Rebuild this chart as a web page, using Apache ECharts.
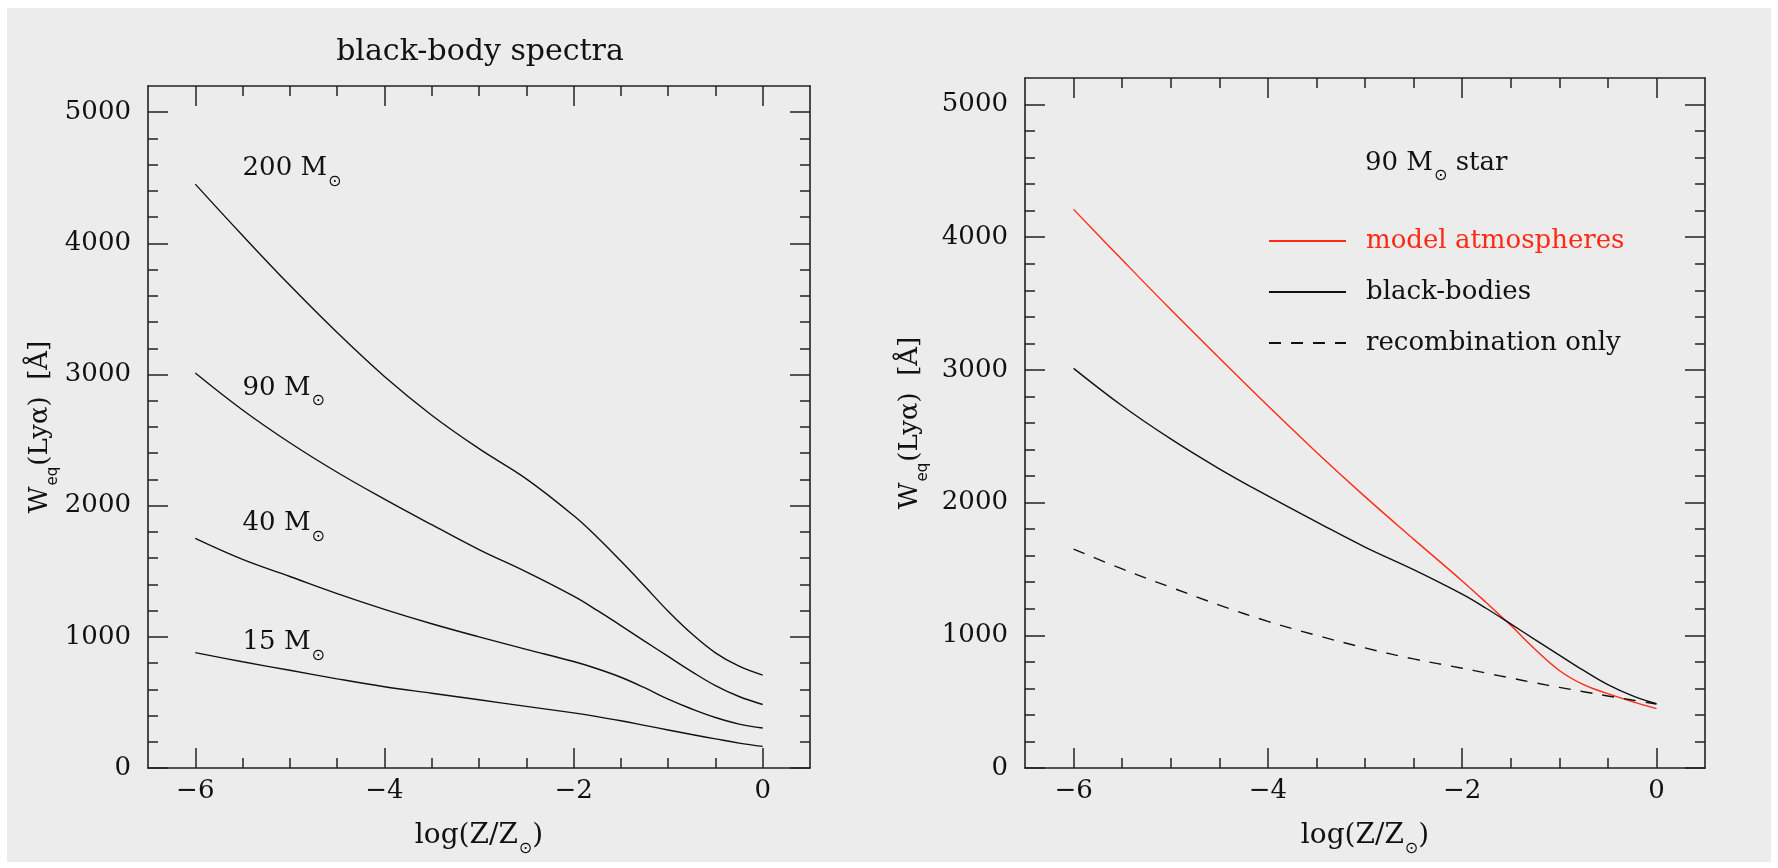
<!DOCTYPE html>
<html>
<head>
<meta charset="utf-8">
<script src="https://cdn.jsdelivr.net/npm/echarts@6/dist/echarts.min.js"></script>
<style>
  html, body { margin: 0; padding: 0; background: #ffffff; }
  #chart { position: absolute; left: 7px; top: 8px; width: 1764px; height: 854px; background: #ececec; }
</style>
</head>
<body>
<div id="chart"></div>
<script>
// log(Z/Zsun) sample points shared by every curve (finer near solar metallicity)
const logZ = [-6, -5.5, -5, -4.5, -4, -3.5, -3, -2.5, -2, -1.75, -1.5, -1.25, -1, -0.75, -0.5, -0.25, 0];

// Left panel: W_eq(Lyα) in Å for black-body spectra
const bb200 = [4452, 4060, 3680, 3320, 2985, 2690, 2435, 2205, 1925, 1760, 1578, 1388, 1195, 1023, 878, 776, 708];
const bb90  = [3012, 2730, 2480, 2255, 2050, 1855, 1665, 1495, 1310, 1202, 1086, 968, 851, 735, 628, 545, 484];
const bb40  = [1750, 1590, 1460, 1330, 1210, 1100, 1000, 905, 812, 757, 692, 612, 525, 450, 385, 335, 305];
const bb15  = [880, 810, 745, 680, 620, 570, 520, 470, 420, 392, 360, 325, 290, 255, 222, 190, 165];

// Right panel: 90 Msun star
const modelAtm = [4210, 3830, 3455, 3090, 2730, 2380, 2045, 1725, 1410, 1245, 1075, 895, 735, 628, 560, 500, 447];
const blackBodies = bb90;
const recombOnly = [1650, 1500, 1362, 1228, 1105, 1000, 905, 822, 752, 715, 678, 642, 608, 575, 543, 512, 482];

// Mass labels on the left panel
const massNames = ['200', '90', '40', '15'];
const massLabelY = [4570, 2895, 1865, 955];
const massLabelX = -5.5;

// Tick values
const xMajor = [-6, -4, -2, 0];
const xMinor = [-5.5, -5, -4.5, -3.5, -3, -2.5, -1.5, -1, -0.5];
const yMajor = [0, 1000, 2000, 3000, 4000, 5000];
const yMinor = [200, 400, 600, 800, 1200, 1400, 1600, 1800, 2200, 2400, 2600, 2800,
                3200, 3400, 3600, 3800, 4200, 4400, 4600, 4800];

const RED = '#ff2a14';
const INK = '#111111';
const FONT = 'DejaVu Serif';

const pts = vals => logZ.map((x, i) => [x, vals[i]]);
const minus = v => String(v).replace('-', '\u2212');

// n: normal text, o: solar symbol subscript, s: letter subscript
function richSet(size) {
  return {
    n: { fontFamily: FONT, fontSize: size, color: INK, lineHeight: 42 },
    o: { fontFamily: 'DejaVu Sans', fontSize: 16, color: INK, verticalAlign: 'bottom', lineHeight: 18, padding: [0, 0, 0, 1] },
    s: { fontFamily: 'DejaVu Sans', fontSize: 15, color: INK, verticalAlign: 'bottom', lineHeight: 20, padding: [0, 1, 0, 1] }
  };
}
const richBase = richSet(26);
const richName = richSet(28);

function frameAxes(kind, gridIndex, name, nameGap, rich) {
  const isX = kind === 'x';
  const lo = isX ? -6.5 : 0, hi = isX ? 0.5 : 5200;
  const major = isX ? xMajor : yMajor, minor = isX ? xMinor : yMinor;
  const positions = isX ? ['bottom', 'top'] : ['left', 'right'];
  const out = [];
  positions.forEach((pos, p) => {
    const main = p === 0;
    out.push({
      type: 'value', gridIndex, position: pos, min: lo, max: hi,
      axisLine: { show: true, onZero: false, lineStyle: { color: '#222', width: 1.6 } },
      axisTick: { show: true, inside: true, customValues: major, length: 20, lineStyle: { color: '#222', width: 1.5 } },
      axisLabel: main ? {
        show: true, customValues: major, formatter: minus, margin: isX ? 10 : 17,
        fontFamily: FONT, fontSize: 26, color: INK
      } : { show: false },
      splitLine: { show: false },
      name: main ? name : '',
      nameLocation: 'middle', nameGap: nameGap, nameRotate: isX ? 0 : 90,
      nameTextStyle: { rich }
    });
    out.push({
      type: 'value', gridIndex, position: pos, min: lo, max: hi,
      axisLine: { show: false, onZero: false },
      axisTick: { show: true, inside: true, customValues: minor, length: 10, lineStyle: { color: '#222', width: 1.5 } },
      axisLabel: { show: false },
      splitLine: { show: false }
    });
  });
  return out;
}

const xName = '{n|log(Z/Z}{o|\u2299}{n|)}';
const yName = '{n|W}{s|eq}{n|(Ly\u03b1)  [\u00c5]}';

const xAxes = frameAxes('x', 0, xName, 47, richName).concat(frameAxes('x', 1, xName, 47, richName));
const yAxes = frameAxes('y', 0, yName, 86, richBase).concat(frameAxes('y', 1, yName, 94, richBase));

function curve(name, vals, axisBase, color, dashed) {
  return {
    type: 'line', name, data: pts(vals), xAxisIndex: axisBase, yAxisIndex: axisBase,
    smooth: 0.4, symbol: 'none', showSymbol: false, silent: true,
    lineStyle: { color, width: 1.4, type: dashed ? [12, 10] : 'solid' },
    itemStyle: { color },
    emphasis: { disabled: true }
  };
}

function textSeries(axisIndex, items) {
  return {
    type: 'scatter', xAxisIndex: axisIndex, yAxisIndex: axisIndex, symbolSize: 0, silent: true,
    itemStyle: { opacity: 1, color: 'transparent' },
    data: items,
    label: { show: true, position: 'right', distance: 0, color: INK, opacity: 1, rich: richBase },
    emphasis: { disabled: true }
  };
}

const massText = massNames.map((m, i) => ({
  value: [massLabelX, massLabelY[i]],
  label: { formatter: '{n|' + m + ' M}{o|\u2299}' }
}));

const option = {
  animation: false,
  backgroundColor: '#ececec',
  grid: [
    { left: 141, top: 78, width: 662, height: 683 },
    { left: 1018, top: 70, width: 680, height: 694 }
  ],
  xAxis: xAxes,
  yAxis: yAxes,
  legend: {
    left: 1256, top: 212, orient: 'vertical',
    itemWidth: 77, itemHeight: 16, itemGap: 19,
    selectedMode: false,
    itemStyle: { opacity: 0 },
    textStyle: { fontFamily: FONT, fontSize: 26, color: INK, lineHeight: 32, padding: [0, 0, 0, 15] },
    data: [
      { name: 'model atmospheres', textStyle: { color: RED } },
      { name: 'black-bodies' },
      { name: 'recombination only' }
    ]
  },
  graphic: [
    { type: 'text', x: 473, y: 44, style: { text: 'black-body spectra', font: '30px "DejaVu Serif"', fill: INK, align: 'center', verticalAlign: 'middle' } }
  ],
  series: [
    curve('200 Msun', bb200, 0, INK),
    curve('90 Msun', bb90, 0, INK),
    curve('40 Msun', bb40, 0, INK),
    curve('15 Msun', bb15, 0, INK),
    textSeries(0, massText),
    curve('model atmospheres', modelAtm, 4, RED),
    curve('black-bodies', blackBodies, 4, INK),
    curve('recombination only', recombOnly, 4, INK, true),
    textSeries(4, [{ value: [-3, 4560], label: { formatter: '{n|90 M}{o|\u2299}{n| star}' } }])
  ]
};

const chart = echarts.init(document.getElementById('chart'), null, { renderer: 'canvas' });
chart.setOption(option);
</script>
</body>
</html>
